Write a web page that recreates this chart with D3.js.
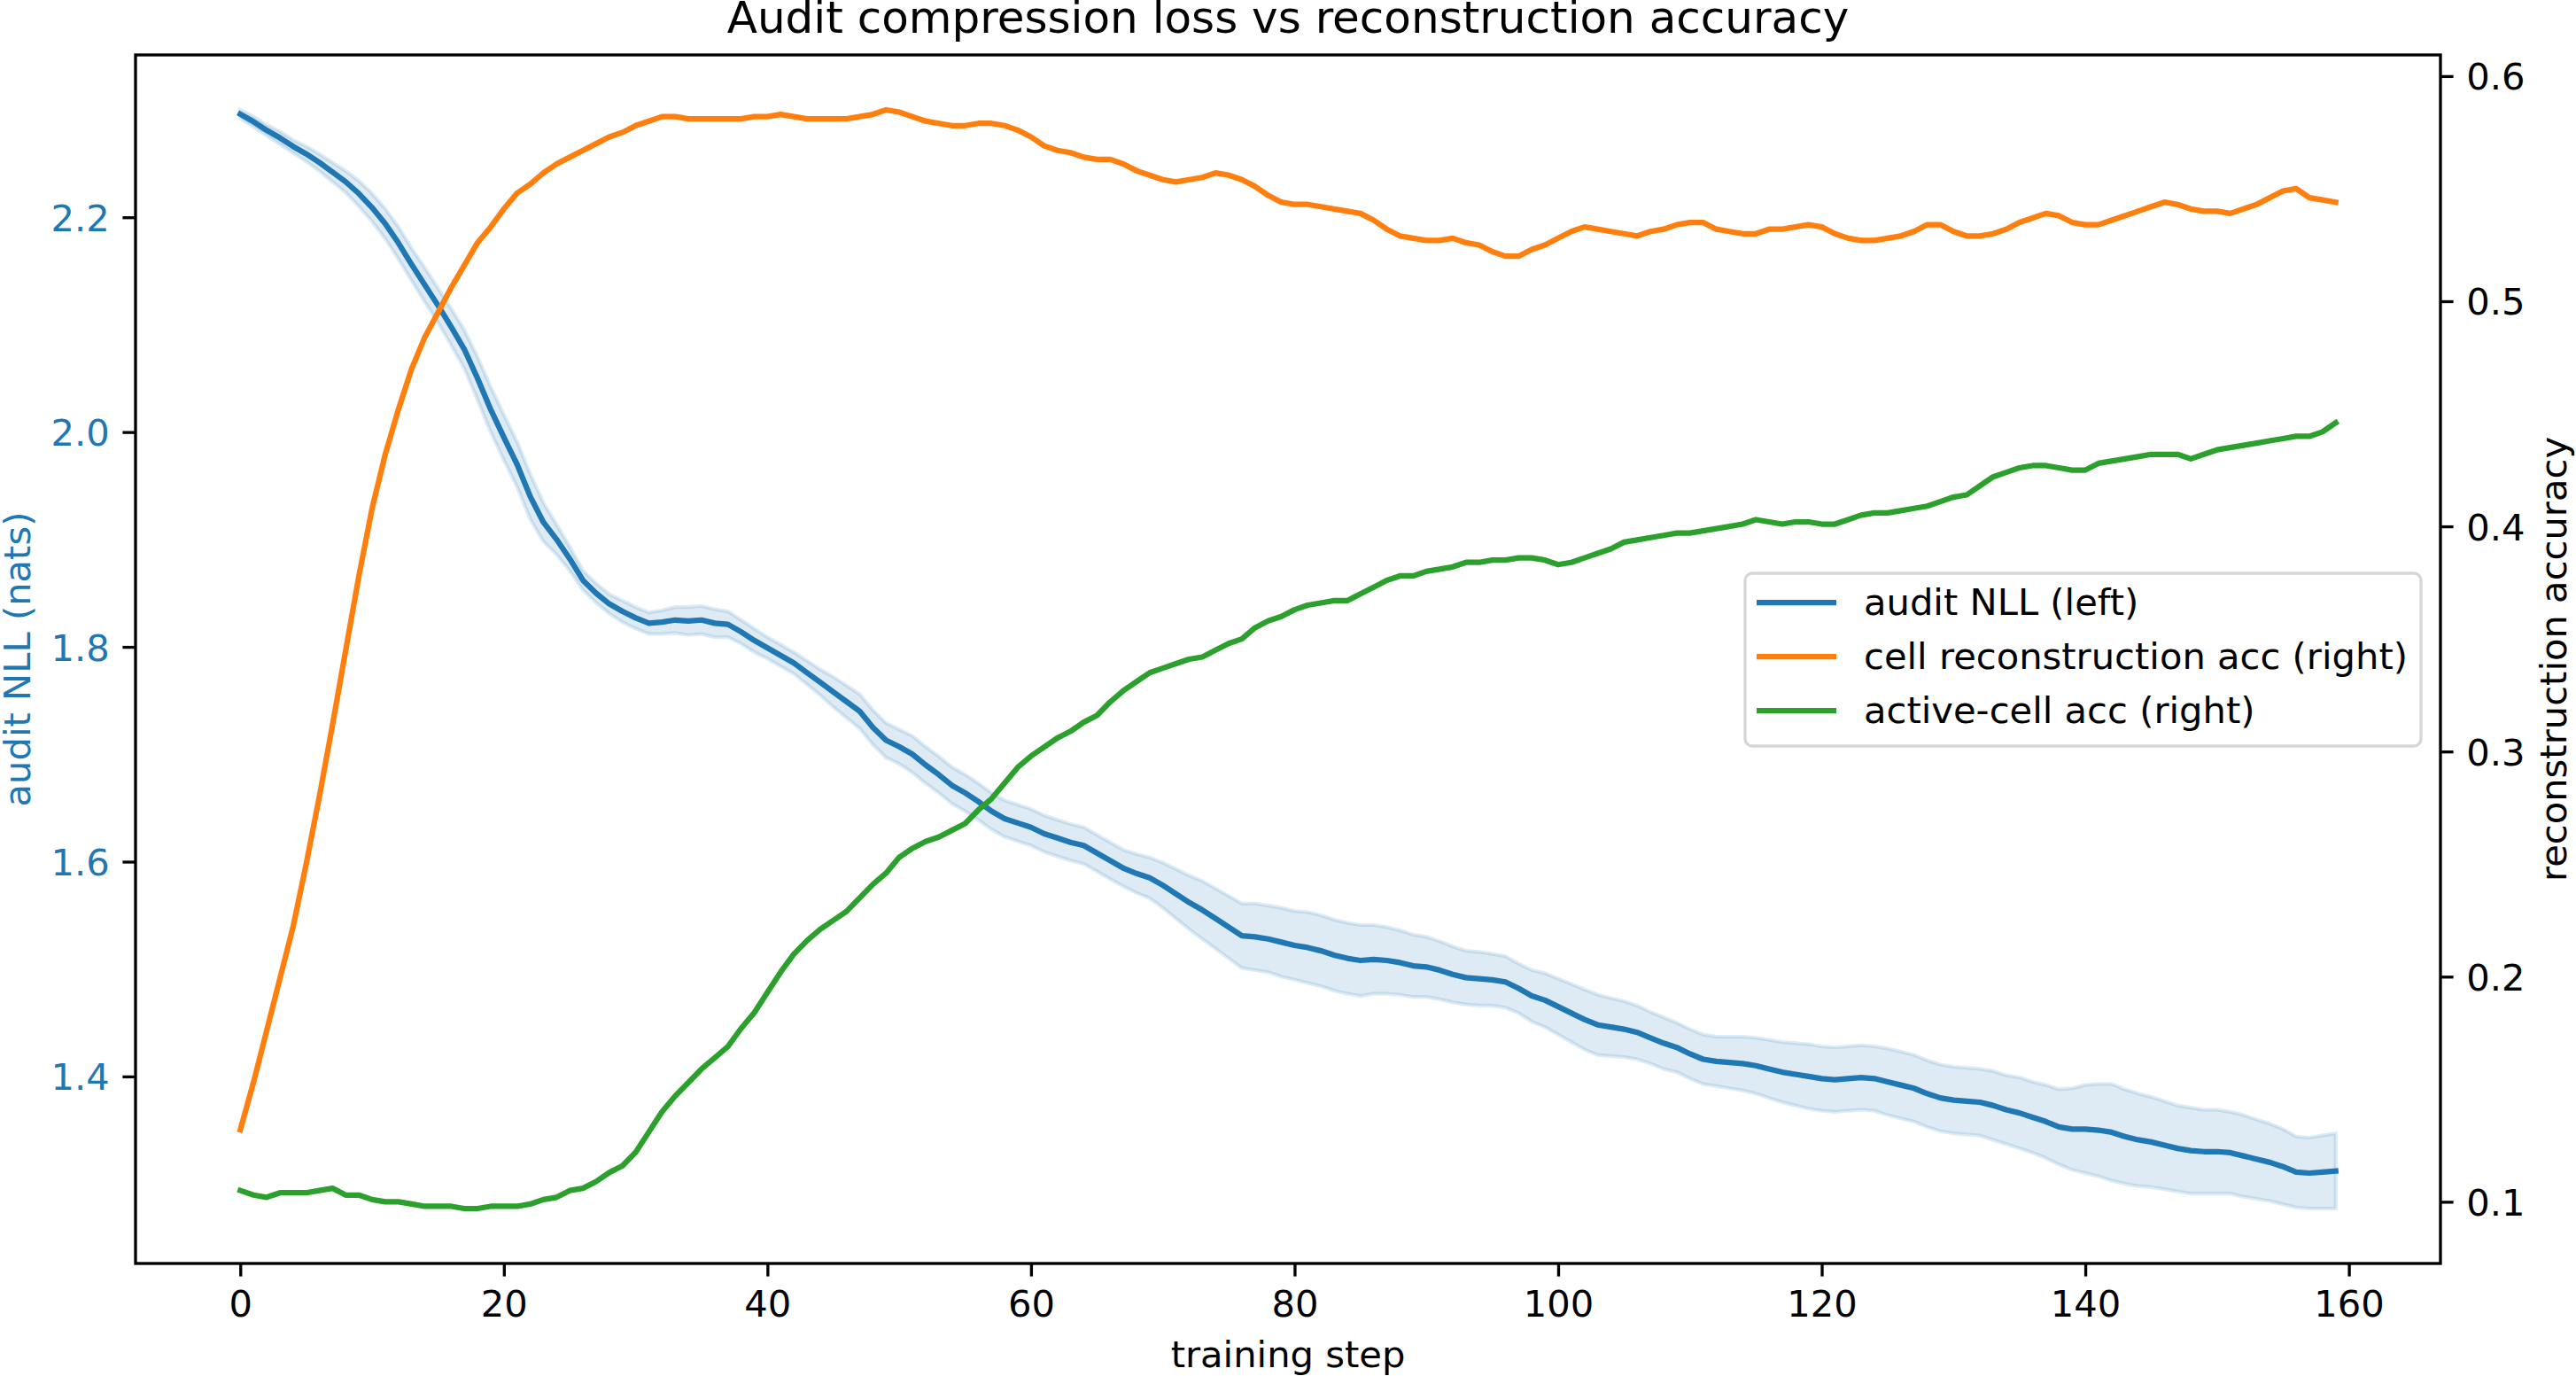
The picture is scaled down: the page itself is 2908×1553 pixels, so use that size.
<!DOCTYPE html>
<html><head><meta charset="utf-8">
<script src="https://cdn.jsdelivr.net/npm/d3@7"></script>
<style>
body{margin:0;background:#fff}
svg{display:block}
text{font-family:"DejaVu Sans","Liberation Sans",sans-serif}
</style>
</head><body>
<svg id="chart" width="2908" height="1553"></svg>
<script>
// ---------------- data ----------------
const steps = d3.range(0, 160);
const nllMean = [
2.296,2.289,2.281,2.274,2.266,2.259,2.251,2.242,2.233,2.222,
2.209,2.194,2.176,2.156,2.137,2.118,2.098,2.077,2.050,2.021,
1.995,1.970,1.940,1.916,1.900,1.882,1.862,1.850,1.840,1.833,
1.827,1.822,1.823,1.825,1.824,1.825,1.822,1.821,1.814,1.806,
1.799,1.792,1.785,1.776,1.767,1.758,1.749,1.740,1.725,1.713,
1.707,1.700,1.690,1.681,1.671,1.664,1.656,1.647,1.640,1.636,
1.632,1.626,1.622,1.618,1.615,1.608,1.601,1.594,1.589,1.585,
1.578,1.570,1.562,1.555,1.547,1.539,1.531,1.530,1.528,1.525,
1.522,1.520,1.517,1.513,1.510,1.508,1.509,1.508,1.506,1.503,
1.502,1.499,1.495,1.492,1.491,1.490,1.488,1.482,1.475,1.471,
1.465,1.459,1.453,1.448,1.446,1.444,1.441,1.436,1.431,1.427,
1.421,1.416,1.414,1.413,1.412,1.410,1.407,1.404,1.402,1.400,
1.398,1.397,1.398,1.399,1.398,1.395,1.392,1.389,1.384,1.380,
1.378,1.377,1.376,1.373,1.369,1.366,1.362,1.358,1.353,1.351,
1.351,1.350,1.348,1.344,1.341,1.339,1.336,1.333,1.331,1.330,
1.330,1.329,1.326,1.323,1.320,1.316,1.311,1.310,1.311,1.312];
const nllStd = [
.004,.005,.005,.006,.006,.007,.008,.009,.010,.012,
.013,.014,.015,.015,.016,.016,.017,.018,.020,.021,
.021,.021,.021,.018,.014,.011,.009,.009,.009,.010,
.010,.010,.011,.012,.013,.013,.013,.012,.011,.011,
.010,.010,.010,.011,.012,.014,.015,.016,.016,.016,
.016,.017,.017,.017,.017,.017,.017,.017,.017,.017,
.017,.017,.017,.017,.017,.017,.017,.017,.018,.019,
.021,.023,.025,.027,.028,.029,.030,.031,.031,.032,
.032,.033,.033,.033,.033,.033,.032,.031,.030,.029,
.028,.027,.026,.025,.025,.024,.024,.023,.024,.025,
.026,.027,.028,.028,.027,.026,.025,.024,.024,.023,
.023,.023,.023,.024,.025,.026,.027,.028,.029,.030,
.030,.030,.030,.030,.030,.031,.031,.031,.031,.031,
.031,.031,.031,.032,.032,.033,.033,.034,.035,.038,
.041,.043,.045,.044,.043,.042,.041,.040,.040,.039,
.039,.038,.038,.037,.036,.035,.033,.033,.034,.035];
const cellAcc = [
.132,.153,.176,.199,.222,.250,.280,.312,.345,.378,
.408,.432,.452,.470,.484,.495,.506,.516,.526,.533,
.541,.548,.552,.557,.561,.564,.567,.570,.573,.575,
.578,.580,.582,.582,.581,.581,.581,.581,.581,.582,
.582,.583,.582,.581,.581,.581,.581,.582,.583,.585,
.584,.582,.580,.579,.578,.578,.579,.579,.578,.576,
.573,.569,.567,.566,.564,.563,.563,.561,.558,.556,
.554,.553,.554,.555,.557,.556,.554,.551,.547,.544,
.543,.543,.542,.541,.540,.539,.536,.532,.529,.528,
.527,.527,.528,.526,.525,.522,.520,.520,.523,.525,
.528,.531,.533,.532,.531,.530,.529,.531,.532,.534,
.535,.535,.532,.531,.530,.530,.532,.532,.533,.534,
.533,.530,.528,.527,.527,.528,.529,.531,.534,.534,
.531,.529,.529,.530,.532,.535,.537,.539,.538,.535,
.534,.534,.536,.538,.540,.542,.544,.543,.541,.540,
.540,.539,.541,.543,.546,.549,.550,.546,.545,.544];
const activeAcc = [
.105,.103,.102,.104,.104,.104,.105,.106,.103,.103,
.101,.100,.100,.099,.098,.098,.098,.097,.097,.098,
.098,.098,.099,.101,.102,.105,.106,.109,.113,.116,
.122,.131,.140,.147,.153,.159,.164,.169,.177,.184,
.193,.202,.210,.216,.221,.225,.229,.235,.241,.246,
.253,.257,.260,.262,.265,.268,.274,.279,.286,.293,
.298,.302,.306,.309,.313,.316,.322,.327,.331,.335,
.337,.339,.341,.342,.345,.348,.350,.355,.358,.360,
.363,.365,.366,.367,.367,.370,.373,.376,.378,.378,
.380,.381,.382,.384,.384,.385,.385,.386,.386,.385,
.383,.384,.386,.388,.390,.393,.394,.395,.396,.397,
.397,.398,.399,.400,.401,.403,.402,.401,.402,.402,
.401,.401,.403,.405,.406,.406,.407,.408,.409,.411,
.413,.414,.418,.422,.424,.426,.427,.427,.426,.425,
.425,.428,.429,.430,.431,.432,.432,.432,.430,.432,
.434,.435,.436,.437,.438,.439,.440,.440,.442,.446];
const xTicks = [0, 20, 40, 60, 80, 100, 120, 140, 160];
const leftTicks = [1.4, 1.6, 1.8, 2.0, 2.2];
const rightTicks = [0.1, 0.2, 0.3, 0.4, 0.5, 0.6];
const seriesNames = ["audit NLL (left)", "cell reconstruction acc (right)", "active-cell acc (right)"];
const seriesColors = ["#1f77b4", "#ff7f0e", "#2ca02c"];
const titleText = "Audit compression loss vs reconstruction accuracy";
const xLabel = "training step";
const leftLabel = "audit NLL (nats)";
const rightLabel = "reconstruction accuracy";

// ---------------- layout ----------------
const W = 2908, H = 1553;
const P = {left: 153, right: 2755, top: 62, bottom: 1426};
const FS = 41.67;       // 10pt @300dpi
const LW = 3.33;        // 0.8pt
const TICK = 14.6;      // 3.5pt
const LINEW = 6.25;     // 1.5pt

const svg = d3.select("#chart");
svg.append("rect").attr("width", W).attr("height", H).attr("fill", "#fff");

function padDomain(lo, hi) { const r = hi - lo; return [lo - 0.05 * r, hi + 0.05 * r]; }

const xExt = d3.extent(steps);
const x = d3.scaleLinear().domain(padDomain(xExt[0], xExt[1])).range([P.left, P.right]);

const lower = nllMean.map((m, i) => m - nllStd[i]);
const upper = nllMean.map((m, i) => m + nllStd[i]);
const yL = d3.scaleLinear().domain(padDomain(d3.min(lower), d3.max(upper))).range([P.bottom, P.top]);

const rMin = Math.min(d3.min(cellAcc), d3.min(activeAcc));
const rMax = Math.max(d3.max(cellAcc), d3.max(activeAcc));
const yR = d3.scaleLinear().domain(padDomain(rMin, rMax)).range([P.bottom, P.top]);

const plot = svg.append("g");
plot.append("defs").append("clipPath").attr("id", "clip")
  .append("rect").attr("x", P.left).attr("y", P.top)
  .attr("width", P.right - P.left).attr("height", P.bottom - P.top);

// band
const area = d3.area()
  .x((d, i) => x(steps[i]))
  .y0((d, i) => yL(lower[i]))
  .y1((d, i) => yL(upper[i]));
plot.append("path").datum(nllMean)
  .attr("d", area)
  .attr("fill", seriesColors[0]).attr("fill-opacity", 0.15)
  .attr("stroke", seriesColors[0]).attr("stroke-opacity", 0.15).attr("stroke-width", 4.2);

const lineL = d3.line().x((d, i) => x(steps[i])).y(d => yL(d));
const lineR = d3.line().x((d, i) => x(steps[i])).y(d => yR(d));

plot.append("path").datum(nllMean).attr("d", lineL)
  .attr("fill", "none").attr("stroke", seriesColors[0]).attr("stroke-width", LINEW)
  .attr("stroke-linejoin", "round").attr("stroke-linecap", "square");
plot.append("path").datum(cellAcc).attr("d", lineR)
  .attr("fill", "none").attr("stroke", seriesColors[1]).attr("stroke-width", LINEW)
  .attr("stroke-linejoin", "round").attr("stroke-linecap", "square");
plot.append("path").datum(activeAcc).attr("d", lineR)
  .attr("fill", "none").attr("stroke", seriesColors[2]).attr("stroke-width", LINEW)
  .attr("stroke-linejoin", "round").attr("stroke-linecap", "square");

// axes
function styleAxis(g, color) {
  g.select(".domain").remove();
  g.selectAll(".tick line").attr("stroke", "#000").attr("stroke-width", LW);
  g.selectAll(".tick text").attr("fill", color).style("font-size", FS + "px")
    .style("font-family", '"DejaVu Sans", sans-serif');
}
const gx = svg.append("g").attr("transform", `translate(0,${P.bottom})`)
  .call(d3.axisBottom(x).tickValues(xTicks).tickFormat(d3.format("d"))
    .tickSize(TICK).tickPadding(TICK).tickSizeOuter(0));
styleAxis(gx, "#000");
gx.selectAll(".tick text").attr("dy", "0.75em");

const gl = svg.append("g").attr("transform", `translate(${P.left},0)`)
  .call(d3.axisLeft(yL).tickValues(leftTicks).tickFormat(d3.format(".1f"))
    .tickSize(TICK).tickPadding(TICK).tickSizeOuter(0));
styleAxis(gl, seriesColors[0]);
gl.selectAll(".tick text").attr("dy", "0.36em");

const gr = svg.append("g").attr("transform", `translate(${P.right},0)`)
  .call(d3.axisRight(yR).tickValues(rightTicks).tickFormat(d3.format(".1f"))
    .tickSize(TICK).tickPadding(TICK).tickSizeOuter(0));
styleAxis(gr, "#000");
gr.selectAll(".tick text").attr("dy", "0.36em");

// spines
svg.append("rect").attr("x", P.left).attr("y", P.top)
  .attr("width", P.right - P.left).attr("height", P.bottom - P.top)
  .attr("fill", "none").attr("stroke", "#000").attr("stroke-width", LW)
  .attr("stroke-linejoin", "miter");

// labels
svg.append("text").attr("x", (P.left + P.right) / 2).attr("y", 37)
  .attr("text-anchor", "middle").style("font-size", "50px").attr("fill", "#000").text(titleText);
svg.append("text").attr("x", (P.left + P.right) / 2).attr("y", 1543)
  .attr("text-anchor", "middle").style("font-size", FS + "px").attr("fill", "#000").text(xLabel);
svg.append("text").attr("transform", `translate(33.5,${(P.top + P.bottom) / 2}) rotate(-90)`)
  .attr("text-anchor", "middle").style("font-size", FS + "px").attr("fill", seriesColors[0]).text(leftLabel);
svg.append("text").attr("transform", `translate(2897,${(P.top + P.bottom) / 2}) rotate(-90)`)
  .attr("text-anchor", "middle").style("font-size", FS + "px").attr("fill", "#000").text(rightLabel);

// legend
const LG = {x: 1970, y: 647, w: 763, h: 195};
const lg = svg.append("g");
lg.append("rect").attr("x", LG.x).attr("y", LG.y).attr("width", LG.w).attr("height", LG.h)
  .attr("rx", 8).attr("ry", 8)
  .attr("fill", "#fff").attr("fill-opacity", 0.8)
  .attr("stroke", "#cccccc").attr("stroke-opacity", 0.8).attr("stroke-width", LW);
const rowY = [680, 741, 802];
seriesNames.forEach((name, i) => {
  lg.append("line").attr("x1", 1983).attr("x2", 2073).attr("y1", rowY[i]).attr("y2", rowY[i])
    .attr("stroke", seriesColors[i]).attr("stroke-width", LINEW);
  lg.append("text").attr("x", 2104).attr("y", rowY[i] + 14)
    .style("font-size", FS + "px").attr("fill", "#000").text(name);
});
</script>
</body></html>
